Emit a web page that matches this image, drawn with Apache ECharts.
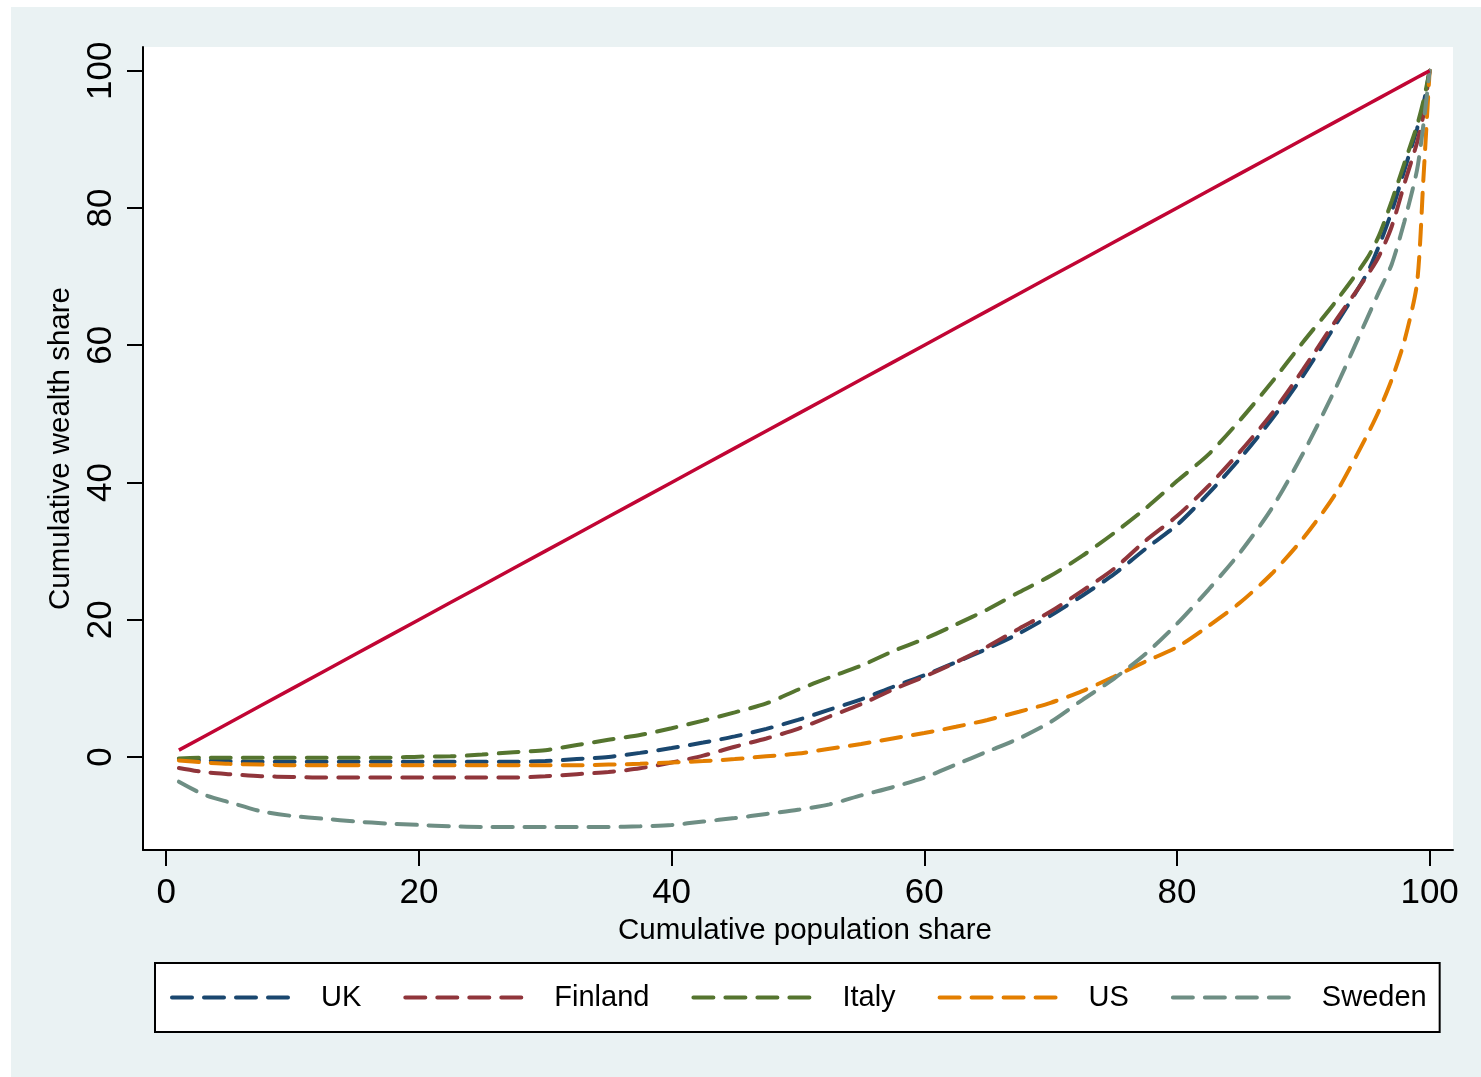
<!DOCTYPE html>
<html>
<head>
<meta charset="utf-8">
<style>
  html, body { margin: 0; padding: 0; background: #ffffff; }
  #chart { width: 1481px; height: 1077px; }
</style>
<script src="https://cdn.jsdelivr.net/npm/echarts@6/dist/echarts.min.js"></script>
</head>
<body>
<div id="chart"></div>
<script>
// Cumulative population share (percent) at which each Lorenz curve is sampled
const populationShare = [1, 3, 5, 7.5, 10, 12.5, 15, 17.5, 20, 22.5, 25, 27.5, 30, 32.5, 35,
  37.5, 40, 42.5, 45, 47.5, 50, 52.5, 55, 57.5, 60, 62.5, 65, 67.5, 70, 72.5, 75, 77.5, 80,
  82.5, 85, 87.5, 90, 92.5, 95, 96, 97, 98, 99, 99.5, 100];

// Line of perfect equality
const equality = [1, 3, 5, 7.5, 10, 12.5, 15, 17.5, 20, 22.5, 25, 27.5, 30, 32.5, 35,
  37.5, 40, 42.5, 45, 47.5, 50, 52.5, 55, 57.5, 60, 62.5, 65, 67.5, 70, 72.5, 75, 77.5, 80,
  82.5, 85, 87.5, 90, 92.5, 95, 96, 97, 98, 99, 99.5, 100];

// Cumulative wealth share (percent) by country
const uk = [-0.3, -0.5, -0.6, -0.7, -0.7, -0.7, -0.7, -0.7, -0.7, -0.7, -0.7, -0.7, -0.6, -0.3, 0.0,
  0.6, 1.3, 2.1, 3.0, 4.1, 5.4, 6.9, 8.4, 10.2, 11.9, 13.8, 15.8, 18.0, 20.6, 23.5, 26.6, 30.3, 33.8,
  38.4, 43.5, 49.2, 55.6, 62.8, 70.3, 74.5, 79.5, 85.5, 91.5, 95.0, 100];
const finland = [-1.6, -2.2, -2.5, -2.8, -2.9, -3.0, -3.0, -3.0, -3.0, -3.0, -3.0, -3.0, -2.8, -2.5, -2.2,
  -1.65, -0.8, 0.2, 1.5, 2.7, 4.1, 5.9, 7.7, 9.8, 11.7, 13.8, 16.1, 18.7, 21.2, 24.2, 27.4, 31.5, 35.1,
  39.5, 44.5, 50.0, 56.5, 63.4, 70.0, 73.0, 77.3, 83.5, 89.5, 93.5, 100];
const italy = [-0.2, -0.1, -0.1, -0.1, -0.1, -0.1, -0.1, -0.1, 0.05, 0.1, 0.35, 0.7, 1.0, 1.75, 2.5,
  3.2, 4.2, 5.3, 6.5, 7.8, 9.8, 11.6, 13.3, 15.4, 17.2, 19.3, 21.5, 24.0, 26.4, 29.3, 32.6, 36.2, 40.2,
  44.1, 49.1, 54.6, 60.5, 66.2, 72.5, 76.0, 81.0, 86.5, 92.0, 95.5, 100];
const us = [-0.5, -0.8, -1.0, -1.1, -1.2, -1.2, -1.2, -1.2, -1.2, -1.2, -1.2, -1.2, -1.2, -1.2, -1.1,
  -1.0, -0.8, -0.6, -0.3, 0.1, 0.5, 1.2, 1.9, 2.7, 3.5, 4.4, 5.4, 6.6, 7.9, 9.6, 11.7, 13.9, 16.0,
  19.1, 22.5, 26.7, 31.9, 38.2, 46.7, 50.5, 55.0, 60.6, 69.0, 84.0, 100];
const sweden = [-3.6, -5.5, -6.6, -7.9, -8.6, -9.0, -9.4, -9.7, -9.9, -10.1, -10.2, -10.2, -10.2, -10.2, -10.2,
  -10.1, -9.9, -9.4, -8.9, -8.3, -7.7, -6.9, -5.6, -4.4, -3.0, -1.1, 0.8, 2.7, 5.1, 8.3, 11.4, 15.0, 19.4,
  24.4, 29.8, 36.2, 44.3, 53.5, 63.7, 67.8, 71.8, 78.0, 85.5, 92.0, 100];

const countries = ['UK', 'Finland', 'Italy', 'US', 'Sweden'];
const countryValues = [uk, finland, italy, us, sweden];
const countryColors = ['#1a476f', '#90353b', '#55752f', '#e37e00', '#6e8e84'];

const tickValues = [0, 20, 40, 60, 80, 100];

const FONT = 'Liberation Sans, Arial, Helvetica, sans-serif';
const DASH = [20, 12];

function pairs(ys) {
  return populationShare.map((x, i) => [x, ys[i]]);
}

const series = countries.map((name, i) => ({
  name: name,
  type: 'line',
  data: pairs(countryValues[i]),
  symbol: 'none',
  smooth: 0.25,
  lineStyle: { color: countryColors[i], width: 4, type: DASH, cap: 'round' },
  itemStyle: { color: countryColors[i] },
  emphasis: { disabled: true },
  z: 3
}));

series.push({
  name: 'equality',
  type: 'line',
  data: pairs(equality),
  symbol: 'none',
  lineStyle: { color: '#c10534', width: 3.5 },
  emphasis: { disabled: true },
  z: 4
});

const chart = echarts.init(document.getElementById('chart'), null, { renderer: 'canvas' });

chart.setOption({
  animation: false,
  backgroundColor: 'transparent',
  graphic: [{
    type: 'rect',
    left: 11, top: 7,
    shape: { width: 1470, height: 1070 },
    style: { fill: '#eaf2f3' },
    z: -10, silent: true
  }],
  grid: {
    left: 143, right: 28, top: 47, bottom: 227,
    show: true, backgroundColor: '#ffffff', borderWidth: 0
  },
  xAxis: {
    type: 'value',
    min: -1.84, max: 101.85,
    name: 'Cumulative population share',
    nameLocation: 'middle',
    nameGap: 58,
    nameTextStyle: { fontFamily: FONT, fontSize: 29.5, color: '#000', padding: [0, 0, 0, 14] },
    axisLine: { show: true, onZero: false, lineStyle: { color: '#000', width: 2 } },
    axisTick: { show: true, customValues: tickValues, length: 16, lineStyle: { color: '#000', width: 2 } },
    axisLabel: { customValues: tickValues, fontFamily: FONT, fontSize: 35, color: '#000', margin: 26 },
    splitLine: { show: false }
  },
  yAxis: {
    type: 'value',
    min: -13.55, max: 103.45,
    name: 'Cumulative wealth share',
    nameLocation: 'middle',
    nameGap: 47,
    nameTextStyle: { fontFamily: FONT, fontSize: 29.5, color: '#000' },
    axisLine: { show: true, onZero: false, lineStyle: { color: '#000', width: 2 } },
    axisTick: { show: true, customValues: tickValues, length: 16, lineStyle: { color: '#000', width: 2 } },
    axisLabel: { customValues: tickValues, rotate: 90, fontFamily: FONT, fontSize: 35, color: '#000', margin: 24 },
    splitLine: { show: false }
  },
  legend: {
    data: countries,
    left: 155, top: 963,
    orient: 'horizontal',
    itemWidth: 122, itemHeight: 30,
    itemGap: 42,
    padding: [20, 13, 20, 15],
    backgroundColor: '#ffffff',
    borderColor: '#000',
    borderWidth: 2,
    borderRadius: 0,
    selectedMode: false,
    itemStyle: { color: 'transparent', borderWidth: 0, opacity: 0 },
    lineStyle: { width: 4, type: DASH, cap: 'round' },
    textStyle: { fontFamily: FONT, fontSize: 29, color: '#000', padding: [0, 0, 0, 22] }
  },
  series: series
});
</script>
</body>
</html>
